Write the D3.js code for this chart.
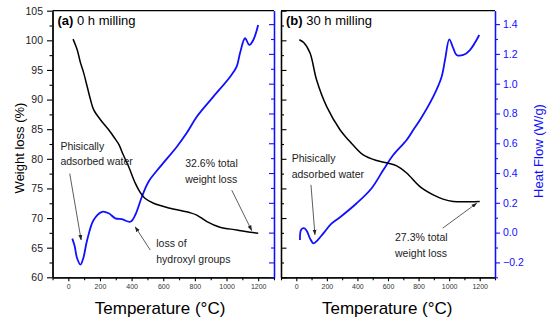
<!DOCTYPE html>
<html>
<head>
<meta charset="utf-8">
<script src="https://cdn.jsdelivr.net/npm/d3@7"></script>
<style>
  body { margin: 0; background: #fff; }
  svg { font-family: "Liberation Sans", Arial, sans-serif; }
</style>
</head>
<body>
<svg id="chart" width="550" height="324"></svg>
<script>
// ---- data ----
// (a) 0 h milling
const tempWtA = [30, 56, 77, 97, 119, 140, 160, 203, 255, 290, 320, 345, 381, 423, 455, 486, 539, 644, 770, 812, 876, 958, 1064, 1149, 1200];
const weightA = [100.2, 98.4, 96.2, 94.5, 92.2, 90.0, 88.3, 86.6, 84.9, 83.6, 82.4, 80.8, 78.7, 75.9, 74.3, 73.3, 72.5, 71.65, 70.9, 70.5, 69.4, 68.45, 68.0, 67.6, 67.45];
const tempHfA = [25, 40, 55, 77, 95, 119, 160, 213, 255, 297, 339, 392, 423, 465, 507, 581, 686, 749, 812, 917, 1023, 1064, 1085, 1117, 1144, 1169, 1200];
const heatA = [-0.04, -0.09, -0.17, -0.215, -0.17, -0.05, 0.085, 0.14, 0.13, 0.096, 0.09, 0.073, 0.118, 0.241, 0.342, 0.443, 0.577, 0.67, 0.778, 0.913, 1.047, 1.114, 1.204, 1.305, 1.26, 1.293, 1.394];
// (b) 30 h milling
const tempWtB = [20, 50, 90, 133, 199, 286, 340, 362, 438, 526, 602, 657, 722, 809, 896, 960, 1027, 1136, 1200];
const weightB = [100.1, 99.6, 97.85, 93.3, 88.8, 84.9, 83.2, 82.6, 80.65, 79.7, 79.25, 78.8, 77.6, 75.3, 73.9, 73.2, 72.8, 72.75, 72.8];
const tempHfB = [24, 31, 50, 68, 90, 113, 140, 177, 230, 286, 395, 493, 569, 634, 722, 765, 809, 896, 951, 973, 1001, 1027, 1049, 1093, 1136, 1197];
const heatB = [-0.05, 0.018, 0.03, 0.013, -0.04, -0.072, -0.05, -0.005, 0.06, 0.103, 0.197, 0.298, 0.42, 0.521, 0.622, 0.689, 0.756, 0.913, 1.047, 1.16, 1.298, 1.238, 1.193, 1.193, 1.226, 1.327];

const tempTicks = [0, 200, 400, 600, 800, 1000, 1200];
const tempMinor = [-100, 100, 300, 500, 700, 900, 1100, 1300];
const weightTicks = [60, 65, 70, 75, 80, 85, 90, 95, 100, 105];
const weightMinor = [62.5, 67.5, 72.5, 77.5, 82.5, 87.5, 92.5, 97.5, 102.5];
const heatTicks = [-0.2, 0, 0.2, 0.4, 0.6, 0.8, 1.0, 1.2, 1.4];
const heatMinor = [-0.3, -0.1, 0.1, 0.3, 0.5, 0.7, 0.9, 1.1, 1.3];

// notes in data units (temperature, weight %)
const notesA = [
  { lines: ["Phisically", "adsorbed water"], t: -50, w: 81.5, from: [9, 77.5], to: [81, 66.3] },
  { lines: ["loss of", "hydroxyl groups"], t: 556, w: 65.1, from: [518, 64.6], to: [423, 68.5] },
  { lines: ["32.6% total", "weight loss"], t: 739, w: 78.6, from: [1033, 74.7], to: [1159, 67.9] }
];
const notesB = [
  { lines: ["Phisically", "adsorbed water"], t: -30, w: 79.4, from: [96, 75.6], to: [122, 67.2] },
  { lines: ["27.3% total", "weight loss"], t: 646, w: 66.1, from: [958, 68.3], to: [1180, 72.5] }
];

const BLUE = "#1010ff";
const plotTop = 10.7, plotBottom = 277.3;
const svg = d3.select("#chart");

svg.append("defs").append("marker")
  .attr("id", "arr")
  .attr("viewBox", "0 0 10 10")
  .attr("refX", 9).attr("refY", 5)
  .attr("markerWidth", 7).attr("markerHeight", 7)
  .attr("orient", "auto")
  .append("path")
  .attr("d", "M0,1.5 L10,5 L0,8.5 Z")
  .attr("fill", "#222");

const yW = d3.scaleLinear().domain([60, 105]).range([plotBottom, plotTop]);
const yH = d3.scaleLinear().domain([-0.3, 1.49]).range([plotBottom, plotTop]);

function styleAxis(g, color, fontSize) {
  g.select(".domain").attr("stroke", color).attr("stroke-width", 1.3);
  g.selectAll(".tick line").attr("stroke", color).attr("stroke-width", 1.1);
  g.selectAll(".tick text").attr("fill", color).style("font-size", fontSize);
}

function drawPanel(p) {
  const x = d3.scaleLinear().domain([-100, 1300]).range([p.x0, p.x1]);

  // x axis
  const gx = svg.append("g").attr("transform", `translate(0,${plotBottom})`)
    .call(d3.axisBottom(x).tickValues(tempTicks).tickFormat(d3.format("d"))
      .tickSize(4).tickSizeOuter(0).tickPadding(3));
  styleAxis(gx, "#000", "7px");
  gx.selectAll(".tick text").attr("fill", "#333");
  const gxm = svg.append("g").attr("transform", `translate(0,${plotBottom})`)
    .call(d3.axisBottom(x).tickValues(tempMinor).tickSize(3).tickSizeOuter(0).tickFormat(""));
  styleAxis(gxm, "#000", "7px");

  // top border
  svg.append("line").attr("x1", p.x0).attr("x2", p.x1).attr("y1", plotTop).attr("y2", plotTop)
    .attr("stroke", "#000").attr("stroke-width", 1.3);

  // left axis (weight)
  const left = p.labels ? d3.axisLeft(yW) : d3.axisRight(yW);
  const leftM = p.labels ? d3.axisLeft(yW) : d3.axisRight(yW);
  const gl = svg.append("g").attr("transform", `translate(${p.x0},0)`)
    .call(left.tickValues(weightTicks).tickSize(5.5).tickSizeOuter(0).tickPadding(4)
      .tickFormat(p.labels ? d3.format("d") : ""));
  styleAxis(gl, "#000", "10.5px");
  gl.selectAll(".tick text").attr("fill", "#222");
  const glm = svg.append("g").attr("transform", `translate(${p.x0},0)`)
    .call(leftM.tickValues(weightMinor).tickSize(3).tickSizeOuter(0).tickFormat(""));
  styleAxis(glm, "#000", "10px");

  // right axis (heat flow)
  const right = p.labels ? d3.axisLeft(yH) : d3.axisRight(yH);
  const rightM = p.labels ? d3.axisLeft(yH) : d3.axisRight(yH);
  const gr = svg.append("g").attr("transform", `translate(${p.x1},0)`)
    .call(right.tickValues(heatTicks).tickSize(5).tickSizeOuter(0).tickPadding(3)
      .tickFormat(p.labels ? "" : d3.format(".1f")));
  styleAxis(gr, BLUE, "10.5px");
  const grm = svg.append("g").attr("transform", `translate(${p.x1},0)`)
    .call(rightM.tickValues(heatMinor).tickSize(3).tickSizeOuter(0).tickFormat(""));
  styleAxis(grm, BLUE, "10px");

  // curves
  const wtLine = d3.line().x(d => x(d[0])).y(d => yW(d[1])).curve(d3.curveCatmullRom);
  const hfLine = d3.line().x(d => x(d[0])).y(d => yH(d[1])).curve(d3.curveCatmullRom);
  svg.append("path").datum(d3.zip(p.tHf, p.hf)).attr("d", hfLine)
    .attr("fill", "none").attr("stroke", BLUE).attr("stroke-width", 1.8);
  svg.append("path").datum(d3.zip(p.tWt, p.wt)).attr("d", wtLine)
    .attr("fill", "none").attr("stroke", "#000").attr("stroke-width", 1.5);

  // panel title
  const title = svg.append("text").attr("x", p.x0 + 5).attr("y", 25).style("font-size", "13px");
  title.append("tspan").style("font-weight", "bold").text(p.tag);
  title.append("tspan").text(" " + p.title);

  // x title
  svg.append("text").attr("x", x(p.xTitleAt)).attr("y", 314).attr("text-anchor", "middle")
    .style("font-size", "17px").text("Temperature (°C)");

  // notes
  p.notes.forEach(n => {
    n.lines.forEach((s, i) => {
      svg.append("text").attr("x", x(n.t)).attr("y", yW(n.w) + i * 15.5)
        .style("font-size", "10.5px").attr("fill", "#222").text(s);
    });
    svg.append("line")
      .attr("x1", x(n.from[0])).attr("y1", yW(n.from[1]))
      .attr("x2", x(n.to[0])).attr("y2", yW(n.to[1]))
      .attr("stroke", "#333").attr("stroke-width", 0.8)
      .attr("marker-end", "url(#arr)");
  });
}

drawPanel({ x0: 52.5, x1: 274, labels: true, tag: "(a)", title: "0 h milling",
  tWt: tempWtA, wt: weightA, tHf: tempHfA, hf: heatA, notes: notesA, xTitleAt: 580 });
drawPanel({ x0: 281, x1: 495, labels: false, tag: "(b)", title: "30 h milling",
  tWt: tempWtB, wt: weightB, tHf: tempHfB, hf: heatB, notes: notesB, xTitleAt: 595 });

// y titles
svg.append("text").attr("transform", "translate(24,148) rotate(-90)").attr("text-anchor", "middle")
  .style("font-size", "13px").text("Weight loss (%)");
svg.append("text").attr("transform", "translate(543,151) rotate(-90)").attr("text-anchor", "middle")
  .style("font-size", "13px").attr("fill", BLUE).text("Heat Flow (W/g)");
</script>
</body>
</html>
